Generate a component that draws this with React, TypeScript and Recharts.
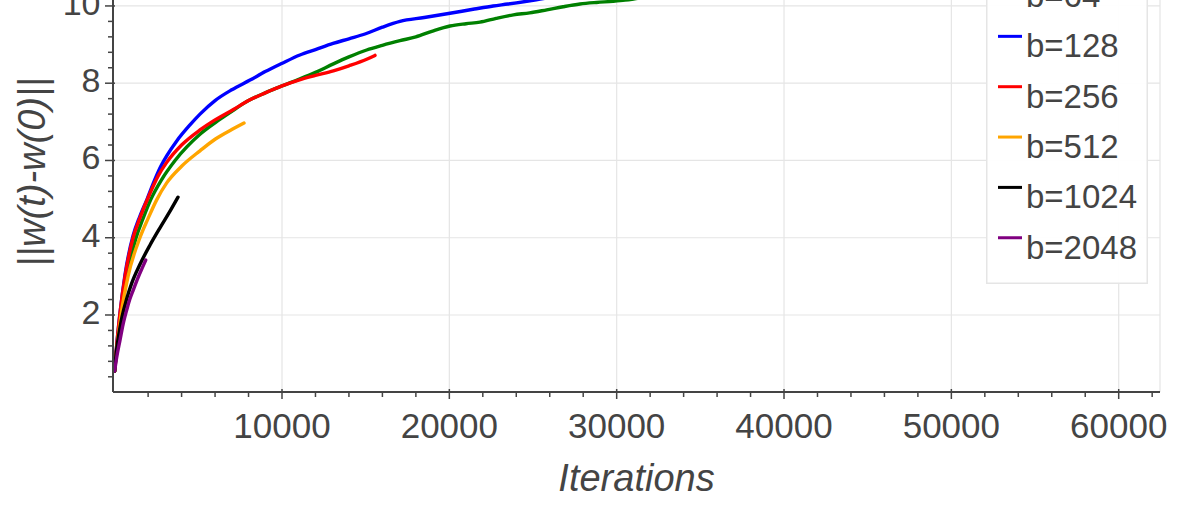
import React from 'react';
import { LineChart, Line, XAxis, YAxis, CartesianGrid, Legend, Label } from 'recharts';

const FONT = '"Liberation Sans", Arial, Helvetica, sans-serif';
const TEXT = '#444444';
const AXIS = '#444444';
const GRID = '#e5e5e5';

const seriesNames = ['b=64', 'b=128', 'b=256', 'b=512', 'b=1024', 'b=2048'];
const seriesColors = ['#008000', '#0000ff', '#ff0000', '#ffa500', '#000000', '#800080'];

// [iterations, ||w(t)-w(0)||]
const b64: [number, number][] = [
  [0, 0.55], [110, 1.05], [380, 2.0], [740, 3.0], [1280, 4.0], [1700, 4.5], [2170, 5.0], [2800, 5.5],
  [3610, 6.0], [5100, 6.68], [6240, 7.05], [7095, 7.3], [8000, 7.55], [9000, 7.75], [10000, 7.93],
  [11000, 8.1], [12000, 8.28], [13070, 8.5], [14000, 8.68], [15060, 8.86], [16000, 8.98], [17050, 9.1],
  [18000, 9.2], [19000, 9.35], [20040, 9.48], [21000, 9.54], [21830, 9.58], [22800, 9.68], [23830, 9.77],
  [24800, 9.82], [25820, 9.9], [26800, 9.98], [27810, 10.05], [28800, 10.09], [29780, 10.12], [30500, 10.15],
  [31300, 10.2], [33000, 10.3], [36000, 10.5], [40000, 10.7], [45000, 10.9], [50000, 11.1], [55000, 11.25],
  [60000, 11.38], [62000, 11.45],
];
const b128: [number, number][] = [
  [0, 0.55], [110, 1.15], [320, 2.05], [620, 3.05], [1100, 4.05], [1500, 4.55], [1940, 5.0], [2300, 5.4],
  [2700, 5.8], [3110, 6.12], [3700, 6.5], [4500, 6.92], [5100, 7.2], [6000, 7.55], [7000, 7.83],
  [8090, 8.08], [9000, 8.3], [9980, 8.51], [11070, 8.73], [12000, 8.87], [13050, 9.03], [14000, 9.15],
  [15000, 9.28], [16000, 9.45], [17050, 9.6], [18500, 9.7], [20040, 9.81], [21500, 9.92], [22620, 10.0],
  [23500, 10.05], [25200, 10.16], [27000, 10.3], [29000, 10.45], [31000, 10.6],
];
const b256: [number, number][] = [
  [0, 0.55], [110, 1.15], [320, 2.05], [620, 3.0], [1100, 4.0], [1500, 4.5], [2112, 5.15], [2600, 5.6],
  [3110, 5.95], [4000, 6.4], [5100, 6.79], [6000, 7.05], [7095, 7.32], [8000, 7.55], [9000, 7.75],
  [10000, 7.93], [11000, 8.08], [12000, 8.2], [13070, 8.32], [14000, 8.45], [15060, 8.62], [15560, 8.72],
];
const b512: [number, number][] = [
  [0, 0.55], [110, 1.05], [380, 2.0], [800, 3.0], [1510, 4.0], [2000, 4.5], [2510, 4.98], [3110, 5.42],
  [4000, 5.85], [5100, 6.25], [6000, 6.55], [7000, 6.8], [7730, 6.97],
];
const b1024: [number, number][] = [
  [0, 0.55], [100, 1.05], [250, 1.5], [440, 1.95], [720, 2.42], [1000, 2.8], [1500, 3.3], [2100, 3.8],
  [2700, 4.25], [3300, 4.68], [3785, 5.05],
];
const b2048: [number, number][] = [
  [0, 0.55], [120, 0.9], [320, 1.35], [500, 1.75], [720, 2.13], [900, 2.4], [1115, 2.65], [1400, 2.97],
  [1650, 3.22], [1855, 3.42],
];

const seriesPoints = [b64, b128, b256, b512, b1024, b2048];

const xMajorTicks = [10000, 20000, 30000, 40000, 50000, 60000];
const xMinorTicks = [
  2000, 4000, 6000, 8000, 12000, 14000, 16000, 18000, 22000, 24000, 26000, 28000,
  32000, 34000, 36000, 38000, 42000, 44000, 46000, 48000, 52000, 54000, 56000, 58000, 62000,
];
const yMajorTicks = [2, 4, 6, 8, 10];
const yMinorTicks = [
  0.4, 0.8, 1.2, 1.6, 2.4, 2.8, 3.2, 3.6, 4.4, 4.8, 5.2, 5.6, 6.4, 6.8, 7.2, 7.6,
  8.4, 8.8, 9.2, 9.6, 10.4, 10.8, 11.2,
];

const xDomain: [number, number] = [-99, 62468];
const yDomain: [number, number] = [0.0065, 11.5];

const seriesData = seriesPoints.map((pts) => pts.map(([x, y]) => ({ x, y })));

const XTick = (p: any) => {
  const v = p.payload.value;
  const major = xMajorTicks.includes(v);
  return (
    <g>
      <line x1={p.x} x2={p.x} y1={major ? p.y - 3 : p.y} y2={p.y + (major ? 7 : 5)} stroke={AXIS} strokeWidth={1.5} />
      {major && (
        <text x={p.x} y={p.y + 45.5} textAnchor="middle" fontSize={35} fontFamily={FONT} fill={TEXT}>
          {v}
        </text>
      )}
    </g>
  );
};

const YTick = (p: any) => {
  const v = p.payload.value;
  const major = yMajorTicks.includes(v);
  return (
    <g>
      <line x1={p.x - (major ? 8 : 5)} x2={major ? p.x + 2 : p.x} y1={p.y} y2={p.y} stroke={AXIS} strokeWidth={1.5} />
      {major && (
        <text x={p.x - 12.5} y={p.y + 9} textAnchor="end" fontSize={34} fontFamily={FONT} fill={TEXT}>
          {v}
        </text>
      )}
    </g>
  );
};

const XLabel = (props: any) => {
  const vb = props.viewBox;
  return (
    <text x={vb.x + vb.width / 2} y={vb.y + 98.7} textAnchor="middle" fontSize={38} fontStyle="italic" fontFamily={FONT} fill={TEXT}>
      Iterations
    </text>
  );
};

const YLabel = (props: any) => {
  const vb = props.viewBox;
  const cx = 45;
  const cy = vb.y + vb.height / 2 + 2;
  return (
    <text x={cx} y={cy} transform={`rotate(-90, ${cx}, ${cy})`} textAnchor="middle" fontSize={38} fontStyle="italic" fontFamily={FONT} fill={TEXT}>
      ||w(t)-w(0)||
    </text>
  );
};

const LEG_W = 162;
const LEG_H = 326;

const LegendBox = () => (
  <svg width={LEG_W} height={LEG_H} style={{ display: 'block' }}>
    <rect x={0.75} y={0.75} width={LEG_W - 1.5} height={LEG_H - 1.5} fill="#ffffff" fillOpacity={0.95} stroke={GRID} strokeWidth={1.5} />
    {seriesNames.map((name, i) => {
      const cy = 37 + 50.35 * i;
      return (
        <g key={name}>
          <line x1={12} x2={36} y1={cy - 9} y2={cy - 9} stroke={seriesColors[i]} strokeWidth={3} />
          <text x={40} y={cy + 11.8} fontSize={33} fontFamily={FONT} fill={TEXT}>
            {name}
          </text>
        </g>
      );
    })}
  </svg>
);

export default function App() {
  return (
    <div style={{ position: 'fixed', left: 0, top: 0, width: 1196, height: 505, overflow: 'hidden', background: '#fff' }}>
      <div style={{ position: 'absolute', left: 0, top: -100 }}>
        <LineChart width={1196} height={605} margin={{ top: 48, right: 36, bottom: 0, left: 0 }}>
          <CartesianGrid
            stroke={GRID}
            strokeWidth={1.2}
            verticalValues={[...xMajorTicks, xDomain[1]]}
            horizontalValues={yMajorTicks}
          />
          <XAxis
            dataKey="x"
            type="number"
            domain={xDomain}
            allowDataOverflow
            ticks={[...xMinorTicks, ...xMajorTicks].sort((a, b) => a - b)}
            interval={0}
            tickSize={0}
            tickMargin={0}
            tickLine={false}
            tick={<XTick />}
            axisLine={{ stroke: AXIS, strokeWidth: 2 }}
            height={113}
          >
            <Label content={<XLabel />} />
          </XAxis>
          <YAxis
            type="number"
            domain={yDomain}
            allowDataOverflow
            ticks={[...yMinorTicks, ...yMajorTicks].sort((a, b) => a - b)}
            interval={0}
            tickSize={0}
            tickMargin={0}
            tickLine={false}
            tick={<YTick />}
            axisLine={{ stroke: AXIS, strokeWidth: 2 }}
            width={113}
          >
            <Label content={<YLabel />} />
          </YAxis>
          {seriesData.map((d, i) => (
            <Line
              key={seriesNames[i]}
              type="monotone"
              data={d}
              dataKey="y"
              name={seriesNames[i]}
              stroke={seriesColors[i]}
              strokeWidth={3.4}
              dot={false}
              activeDot={false}
              isAnimationActive={false}
              strokeLinejoin="round"
              strokeLinecap="round"
            />
          ))}
          <Legend
            layout="vertical"
            align="center"
            verticalAlign="middle"
            wrapperStyle={{ left: 986, top: 58, width: LEG_W, height: LEG_H, right: 'auto', bottom: 'auto' }}
            content={<LegendBox />}
          />
        </LineChart>
      </div>
    </div>
  );
}
